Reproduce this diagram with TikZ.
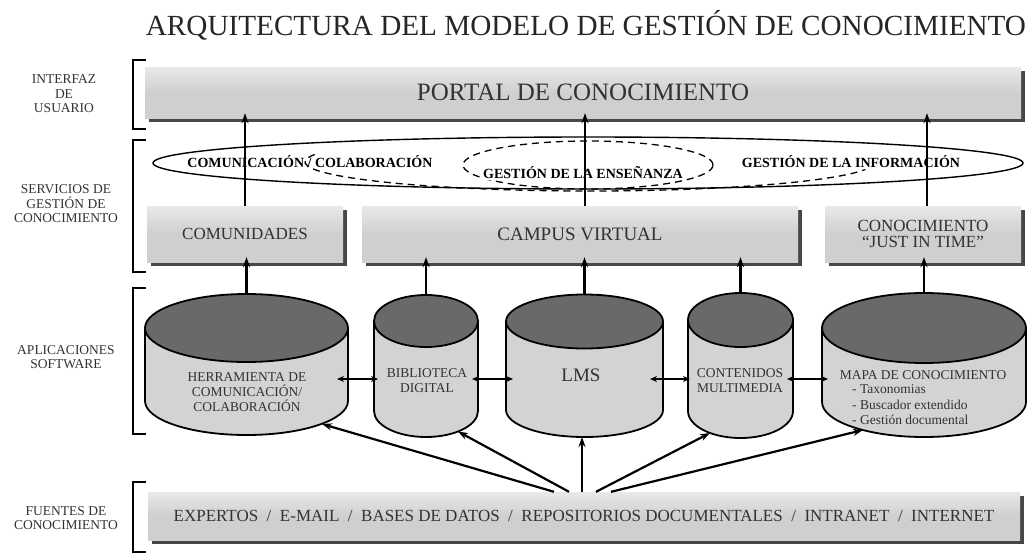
\documentclass[tikz,border=0pt]{standalone}
\usepackage{fontspec}
\setmainfont{Liberation Serif}
\usetikzlibrary{shadows,arrows.meta,calc}
\definecolor{boxgray}{RGB}{208,206,207}
\definecolor{cylbody}{RGB}{211,211,211}
\definecolor{cyltop}{RGB}{105,105,105}
\definecolor{txtgray}{RGB}{50,50,50}
\newcommand{\myfs}[2]{\fontsize{#1}{#2}\selectfont}
\newcommand{\mycyl}[6]{%
  \filldraw[cylline, fill=cylbody] ({#2-#3},#4) -- ({#2-#3},#5)
     arc[start angle=180, end angle=360, x radius=#3pt, y radius=#6pt] -- ({#2+#3},#4) -- cycle;
  \filldraw[cylline, fill=cyltop] (#2,#4) ellipse [x radius=#3pt, y radius=#6pt];
  \node[inner sep=0pt, minimum width={2*#3}, minimum height={#5-#4+2*#6}] (#1) at (#2,{(#4+#5)/2}) {};
}
\begin{document}
\begin{tikzpicture}[x=1pt,y=-1pt,
  sbox/.style={rectangle, inner sep=0pt, draw=none,
    top color=boxgray!45!white, bottom color=boxgray, middle color=boxgray,
    drop shadow={shadow xshift=4pt, shadow yshift=-4pt, fill=black!80, opacity=0.9},
    text=txtgray, align=center},
  cylline/.style={line width=1.8pt, draw=black},
  arr/.style={line width=2.2pt, -{Stealth[length=10pt,width=7pt]}},
  dbl/.style={line width=2pt, {Stealth[length=7pt,width=6pt]}-{Stealth[length=7pt,width=6pt]}},
  brk/.style={line width=2.4pt, line cap=butt},
  lab/.style={align=center, text=txtgray, font=\myfs{13.5}{14.5}, inner sep=0pt},
  ctext/.style={align=center, text=txtgray, font=\myfs{13.5}{15}, inner sep=0pt},
  elab/.style={font=\bfseries\myfs{14}{14}, text=black, inner sep=1pt},
  dsh/.style={line width=1.3pt, dash pattern=on 7pt off 5pt}
]
\useasboundingbox (0,0) rectangle (1036,554);

% title
\node[text=black!85, font=\myfs{29.2}{30}, inner sep=0pt] (title) at (586,25) {ARQUITECTURA DEL MODELO DE GESTIÓN DE CONOCIMIENTO};

% brackets
\draw[brk] (146,60) -- (133,60) -- (133,129) -- (146,129);
\draw[brk] (146,140) -- (133,140) -- (133,272) -- (146,272);
\draw[brk] (146,288) -- (133,288) -- (133,434) -- (146,434);
\draw[brk] (146,482) -- (133,482) -- (133,552) -- (146,552);

% left labels
\node[lab] (l1) at (64,94) {INTERFAZ\\DE\\USUARIO};
\node[lab] (l2) at (66,204) {SERVICIOS DE\\GESTIÓN DE\\CONOCIMIENTO};
\node[lab] (l3) at (66,357) {APLICACIONES\\SOFTWARE};
\node[lab] (l4) at (66,518) {FUENTES DE\\CONOCIMIENTO};

% boxes
\node[sbox, minimum width=876, minimum height=51, font=\myfs{25}{26}] (portal) at (583,92.5) {PORTAL DE CONOCIMIENTO};
\node[sbox, minimum width=196, minimum height=56, font=\myfs{17}{18}] (comu) at (245,234) {COMUNIDADES};
\node[sbox, minimum width=436, minimum height=56, font=\myfs{19}{20}] (campus) at (580,234) {CAMPUS VIRTUAL};
\node[sbox, minimum width=196, minimum height=56, font=\myfs{17}{15.5}] (jit) at (923,234) {CONOCIMIENTO\\“JUST IN TIME”};
\node[sbox, minimum width=872, minimum height=48, font=\myfs{17}{18}] (fuentes) at (584,516) {EXPERTOS \ / \ E-MAIL \ / \ BASES DE DATOS \ / \ REPOSITORIOS DOCUMENTALES \ / \ INTRANET \ / \ INTERNET};

% services ellipse
\draw[line width=1.4pt] (588,163) ellipse [x radius=435pt, y radius=26pt];
\draw[dsh] (588,165) ellipse [x radius=125pt, y radius=24pt];
\draw[dsh] (314.7,154.5) arc[start angle=165, end angle=345, x radius=285pt, y radius=29pt];
\node[elab] (e1) at (310,162) {COMUNICACIÓN / COLABORACIÓN};
\node[elab, fill=white] (e2) at (583,173) {GESTIÓN DE LA ENSEÑANZA};
\node[elab, fill=white] (e3) at (851,162) {GESTIÓN DE LA INFORMACIÓN};

% cylinders
\mycyl{herr}{246.5}{101.5}{328}{401}{34}
\mycyl{bib}{426}{52}{321}{411}{26}
\mycyl{lms}{584.5}{78.5}{321.5}{410}{27}
\mycyl{cont}{740.5}{52.5}{320}{411}{27}
\mycyl{mapa}{924}{102}{328}{402}{35}

\node[ctext] (herr-t) at (247,392) {HERRAMIENTA DE\\COMUNICACIÓN/\\COLABORACIÓN};
\node[ctext] (bib-t) at (427,381) {BIBLIOTECA\\DIGITAL};
\node[ctext, font=\myfs{19}{20}] (lms-t) at (581,375) {LMS};
\node[ctext] (cont-t) at (740,381) {CONTENIDOS\\MULTIMEDIA};
\node[ctext] (mapa-t) at (923,375) {MAPA DE CONOCIMIENTO};
\node[ctext, anchor=west] (mapa-i1) at (852,389.5) {- Taxonomias};
\node[ctext, anchor=west] (mapa-i2) at (852,405) {- Buscador extendido};
\node[ctext, anchor=west] (mapa-i3) at (852,420) {- Gestión documental};

% arrows services -> portal
\draw[arr, shorten >=-5pt] (comu.north) -- (comu.north |- portal.south);
\coordinate (campus-a) at ($(campus.north)+(5,0)$);
\draw[arr, shorten >=-5pt] (campus-a) -- (campus-a |- portal.south);
\coordinate (jit-a) at ($(jit.north)+(4,0)$);
\draw[arr, shorten >=-5pt] (jit-a) -- (jit-a |- portal.south);

% arrows cylinders -> services
\draw[arr, shorten >=-5pt] (herr.north) -- (herr.north |- comu.south);
\draw[arr, shorten >=-5pt] (bib.north) -- (bib.north |- campus.south);
\draw[arr, shorten >=-5pt] (lms.north) -- (lms.north |- campus.south);
\draw[arr, shorten >=-5pt] (cont.north) -- (cont.north |- campus.south);
\draw[arr, shorten >=-5pt] (mapa.north) -- (mapa.north |- jit.south);

% double arrows between cylinders
\coordinate (hb1) at (337,379); \coordinate (hb2) at (378,379);
\coordinate (bl1) at (472,379); \coordinate (bl2) at (513,379);
\coordinate (lc1) at (650,379); \coordinate (lc2) at (690,379);
\coordinate (cm1) at (787,379); \coordinate (cm2) at (828,379);
\draw[dbl] (hb1) -- (hb2);
\draw[dbl] (bl1) -- (bl2);
\draw[dbl] (lc1) -- (lc2);
\draw[dbl] (cm1) -- (cm2);

% arrows sources -> cylinders
\coordinate (f1) at ($(fuentes.north)+(-30,0)$);
\coordinate (f2) at ($(fuentes.north)+(-15,0)$);
\coordinate (f3) at ($(fuentes.north)+(-2,0)$);
\coordinate (f4) at ($(fuentes.north)+(12,0)$);
\coordinate (f5) at ($(fuentes.north)+(27,0)$);
\coordinate (herr-b) at (322,424);
\coordinate (bib-b) at (458,431.5);
\coordinate (lms-b) at (582,437);
\coordinate (cont-b) at (710,433);
\coordinate (mapa-b) at (863,430);
\draw[arr] (f1) -- (herr-b);
\draw[arr] (f2) -- (bib-b);
\draw[arr] (f3) -- (f3 |- lms-b);
\draw[arr] (f4) -- (cont-b);
\draw[arr] (f5) -- (mapa-b);
\end{tikzpicture}
\end{document}
